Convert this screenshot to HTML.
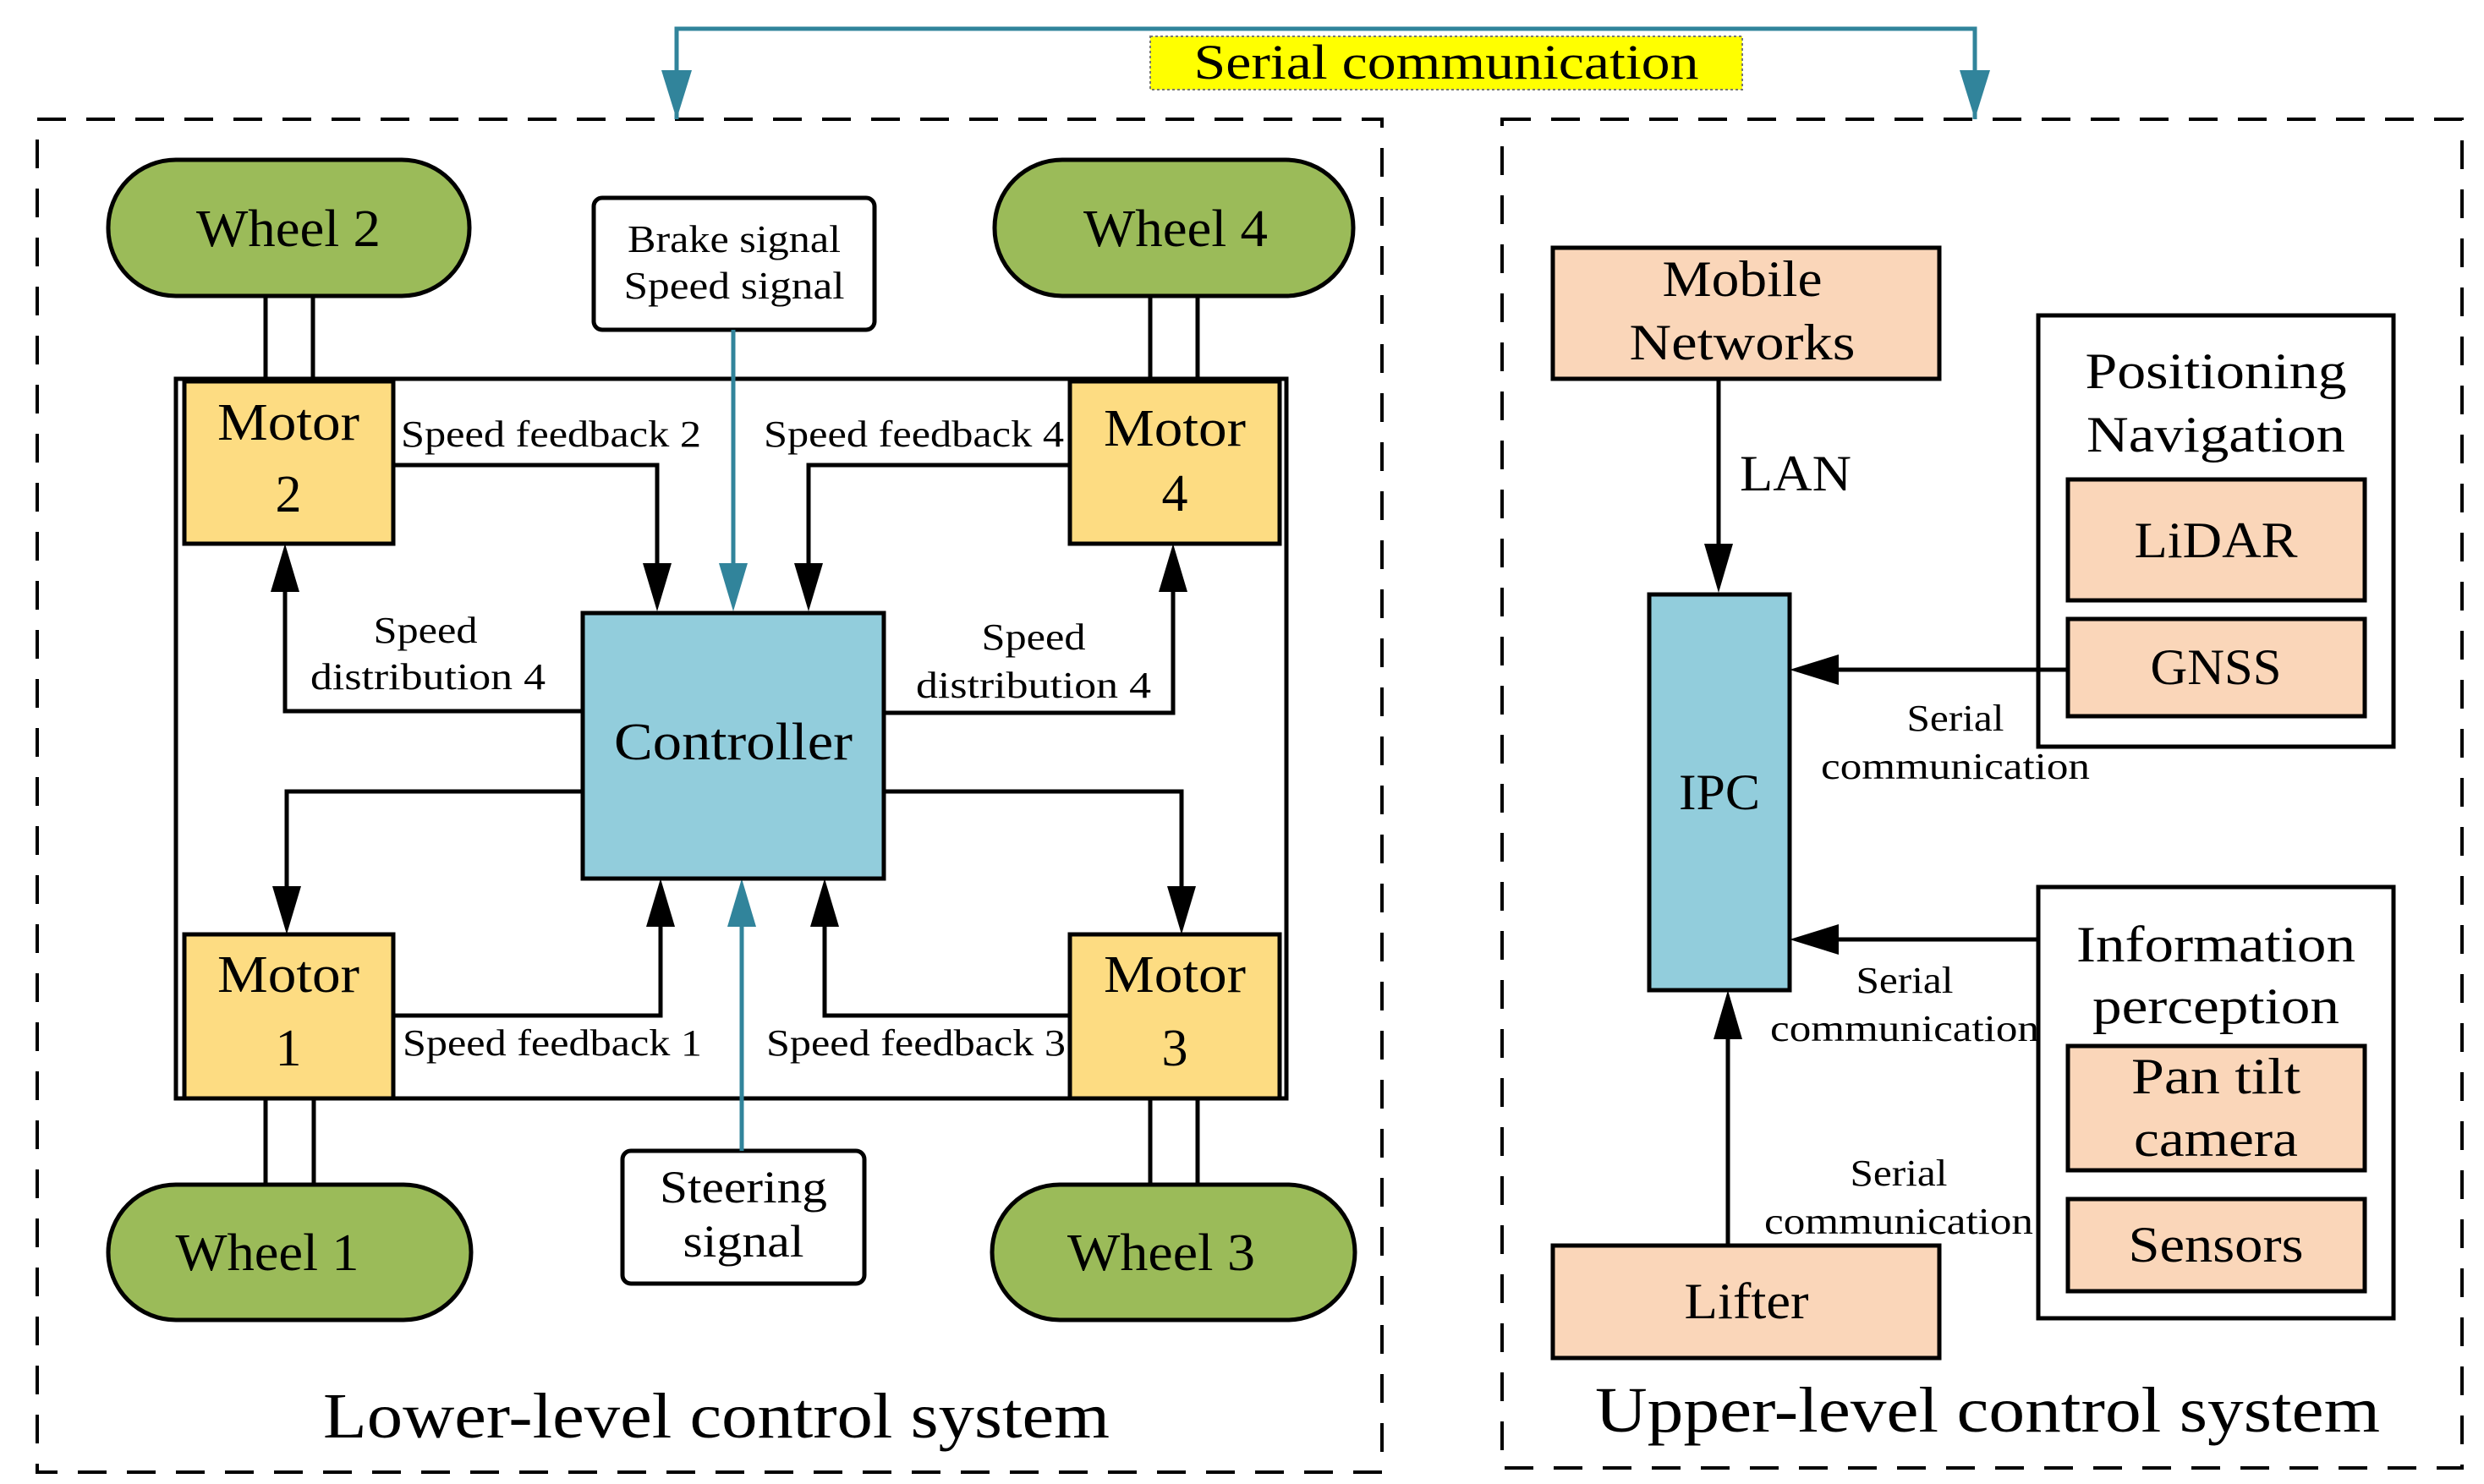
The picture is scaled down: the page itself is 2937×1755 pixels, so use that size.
<!DOCTYPE html>
<html><head><meta charset="utf-8"><style>
html,body{margin:0;padding:0;background:#fff;}
svg{display:block;}
text{font-family:"Liberation Serif",serif;fill:#000;}
</style></head><body>
<svg width="2937" height="1755" viewBox="0 0 2937 1755" xmlns="http://www.w3.org/2000/svg">
<g fill="none" stroke="#000" stroke-width="4" stroke-dasharray="34,24">
<rect x="44" y="141" width="1590" height="1600"/>
<rect x="1776" y="141" width="1135" height="1595"/>
</g>
<polyline points="800,141 800,34 2335,34 2335,141" fill="none" stroke="#31849B" stroke-width="5"/>
<polygon points="782,83 818,83 800,141" fill="#31849B"/>
<polygon points="2317,83 2353,83 2335,141" fill="#31849B"/>
<rect x="1360" y="43" width="700" height="63" fill="#FFFF00" stroke="#777" stroke-width="2" stroke-dasharray="3,3"/>
<text x="1710" y="93" font-size="58" text-anchor="middle" textLength="597" lengthAdjust="spacingAndGlyphs">Serial communication</text>

<rect x="208" y="448" width="1313" height="851" fill="none" stroke="#000" stroke-width="5"/>
<g stroke="#000" stroke-width="5">
<line x1="314" y1="350" x2="314" y2="448"/><line x1="370" y1="350" x2="370" y2="448"/>
<line x1="1360" y1="350" x2="1360" y2="448"/><line x1="1416" y1="350" x2="1416" y2="448"/>
<line x1="314" y1="1299" x2="314" y2="1401"/><line x1="371" y1="1299" x2="371" y2="1401"/>
<line x1="1360" y1="1299" x2="1360" y2="1401"/><line x1="1416" y1="1299" x2="1416" y2="1401"/>
</g>
<g fill="#9BBB59" stroke="#000" stroke-width="5">
<rect x="128" y="189" width="427" height="161" rx="80"/>
<rect x="1176" y="189" width="424" height="161" rx="80"/>
<rect x="128" y="1401" width="429" height="160" rx="80"/>
<rect x="1173" y="1401" width="429" height="160" rx="80"/>
</g>
<g font-size="62">
<text x="341" y="291" text-anchor="middle" textLength="218" lengthAdjust="spacingAndGlyphs">Wheel 2</text>
<text x="1390" y="291" text-anchor="middle" textLength="218" lengthAdjust="spacingAndGlyphs">Wheel 4</text>
<text x="316" y="1502" text-anchor="middle" textLength="217" lengthAdjust="spacingAndGlyphs">Wheel 1</text>
<text x="1373" y="1502" text-anchor="middle" textLength="222" lengthAdjust="spacingAndGlyphs">Wheel 3</text>
</g>
<rect x="702" y="234" width="332" height="156" rx="10" fill="#fff" stroke="#000" stroke-width="5"/>
<text x="868" y="298" font-size="46" text-anchor="middle" textLength="252" lengthAdjust="spacingAndGlyphs">Brake signal</text>
<text x="868" y="353" font-size="46" text-anchor="middle" textLength="261" lengthAdjust="spacingAndGlyphs">Speed signal</text>
<rect x="736" y="1361" width="286" height="157" rx="10" fill="#fff" stroke="#000" stroke-width="5"/>
<text x="879" y="1422" font-size="54" text-anchor="middle" textLength="198" lengthAdjust="spacingAndGlyphs">Steering</text>
<text x="879" y="1486" font-size="54" text-anchor="middle" textLength="143" lengthAdjust="spacingAndGlyphs">signal</text>

<g fill="none" stroke="#000" stroke-width="5">
<polyline points="465,550 777,550 777,700"/>
<polyline points="1263,550 956,550 956,700"/>
<polyline points="687,841 337,841 337,670"/>
<polyline points="1045,843 1387,843 1387,670"/>
<polyline points="687,936 339,936 339,1080"/>
<polyline points="1045,936 1397,936 1397,1080"/>
<polyline points="465,1201 781,1201 781,1062"/>
<polyline points="1265,1201 975,1201 975,1062"/>
</g>
<line x1="867" y1="390" x2="867" y2="700" stroke="#31849B" stroke-width="5"/>
<line x1="877" y1="1361" x2="877" y2="1062" stroke="#31849B" stroke-width="5"/>
<g fill="#000">
<polygon points="760,666 794,666 777,723"/>
<polygon points="939,666 973,666 956,723"/>
<polygon points="320,700 354,700 337,643"/>
<polygon points="1370,700 1404,700 1387,643"/>
<polygon points="322,1048 356,1048 339,1105"/>
<polygon points="1380,1048 1414,1048 1397,1105"/>
<polygon points="764,1096 798,1096 781,1039"/>
<polygon points="958,1096 992,1096 975,1039"/>
</g>
<polygon points="850,666 884,666 867,723" fill="#31849B"/>
<polygon points="860,1096 894,1096 877,1039" fill="#31849B"/>

<g fill="#FDDC82" stroke="#000" stroke-width="5">
<rect x="218" y="451" width="247" height="192"/>
<rect x="1265" y="451" width="248" height="192"/>
<rect x="218" y="1105" width="247" height="194"/>
<rect x="1265" y="1105" width="248" height="194"/>
</g>
<g font-size="62" text-anchor="middle">
<text x="341" y="520" textLength="168" lengthAdjust="spacingAndGlyphs">Motor</text>
<text x="341" y="605">2</text>
<text x="1389" y="527" textLength="168" lengthAdjust="spacingAndGlyphs">Motor</text>
<text x="1389" y="604">4</text>
<text x="341" y="1173" textLength="168" lengthAdjust="spacingAndGlyphs">Motor</text>
<text x="341" y="1260">1</text>
<text x="1389" y="1173" textLength="168" lengthAdjust="spacingAndGlyphs">Motor</text>
<text x="1389" y="1260">3</text>
</g>
<rect x="689" y="725" width="356" height="314" fill="#92CDDC" stroke="#000" stroke-width="5"/>
<text x="867" y="898" font-size="62" text-anchor="middle" textLength="282" lengthAdjust="spacingAndGlyphs">Controller</text>

<g font-size="44">
<text x="474" y="528" textLength="355" lengthAdjust="spacingAndGlyphs">Speed feedback 2</text>
<text x="903" y="528" textLength="355" lengthAdjust="spacingAndGlyphs">Speed feedback 4</text>
<text x="476" y="1248" textLength="354" lengthAdjust="spacingAndGlyphs">Speed feedback 1</text>
<text x="906" y="1248" textLength="354" lengthAdjust="spacingAndGlyphs">Speed feedback 3</text>
<text x="503" y="760" text-anchor="middle" textLength="123" lengthAdjust="spacingAndGlyphs">Speed</text>
<text x="506" y="815" text-anchor="middle" textLength="278" lengthAdjust="spacingAndGlyphs">distribution 4</text>
<text x="1222" y="768" text-anchor="middle" textLength="123" lengthAdjust="spacingAndGlyphs">Speed</text>
<text x="1222" y="825" text-anchor="middle" textLength="278" lengthAdjust="spacingAndGlyphs">distribution 4</text>
</g>
<text x="847" y="1700" font-size="76" text-anchor="middle" textLength="930" lengthAdjust="spacingAndGlyphs">Lower-level control system</text>

<rect x="1836" y="293" width="457" height="155" fill="#FAD6B9" stroke="#000" stroke-width="5"/>
<text x="2060" y="350" font-size="60" text-anchor="middle" textLength="189" lengthAdjust="spacingAndGlyphs">Mobile</text>
<text x="2060" y="425" font-size="60" text-anchor="middle" textLength="267" lengthAdjust="spacingAndGlyphs">Networks</text>
<line x1="2032" y1="448" x2="2032" y2="650" stroke="#000" stroke-width="5"/>
<polygon points="2015,643 2049,643 2032,701" fill="#000"/>
<text x="2057" y="580" font-size="60" textLength="132" lengthAdjust="spacingAndGlyphs">LAN</text>

<rect x="2410" y="373" width="420" height="510" fill="#fff" stroke="#000" stroke-width="5"/>
<text x="2620" y="459" font-size="60" text-anchor="middle" textLength="309" lengthAdjust="spacingAndGlyphs">Positioning</text>
<text x="2620" y="534" font-size="60" text-anchor="middle" textLength="306" lengthAdjust="spacingAndGlyphs">Navigation</text>
<rect x="2445" y="567" width="351" height="143" fill="#FAD6B9" stroke="#000" stroke-width="5"/>
<text x="2620" y="659" font-size="60" text-anchor="middle" textLength="193" lengthAdjust="spacingAndGlyphs">LiDAR</text>
<rect x="2445" y="732" width="351" height="115" fill="#FAD6B9" stroke="#000" stroke-width="5"/>
<text x="2620" y="809" font-size="60" text-anchor="middle" textLength="155" lengthAdjust="spacingAndGlyphs">GNSS</text>

<rect x="1950" y="703" width="166" height="468" fill="#92CDDC" stroke="#000" stroke-width="5"/>
<text x="2033" y="957" font-size="60" text-anchor="middle" textLength="96" lengthAdjust="spacingAndGlyphs">IPC</text>

<g stroke="#000" stroke-width="5">
<line x1="2445" y1="792" x2="2160" y2="792"/>
<line x1="2410" y1="1111" x2="2160" y2="1111"/>
<line x1="2043" y1="1473" x2="2043" y2="1215"/>
</g>
<g fill="#000">
<polygon points="2174,774 2174,810 2116,792"/>
<polygon points="2174,1093 2174,1129 2116,1111"/>
<polygon points="2026,1229 2060,1229 2043,1171"/>
</g>
<g font-size="44" text-anchor="middle">
<text x="2312" y="864" textLength="115" lengthAdjust="spacingAndGlyphs">Serial</text>
<text x="2312" y="921" textLength="318" lengthAdjust="spacingAndGlyphs">communication</text>
<text x="2252" y="1174" textLength="115" lengthAdjust="spacingAndGlyphs">Serial</text>
<text x="2252" y="1231" textLength="318" lengthAdjust="spacingAndGlyphs">communication</text>
<text x="2245" y="1402" textLength="115" lengthAdjust="spacingAndGlyphs">Serial</text>
<text x="2245" y="1459" textLength="318" lengthAdjust="spacingAndGlyphs">communication</text>
</g>

<rect x="2410" y="1049" width="420" height="510" fill="#fff" stroke="#000" stroke-width="5"/>
<text x="2620" y="1137" font-size="60" text-anchor="middle" textLength="330" lengthAdjust="spacingAndGlyphs">Information</text>
<text x="2620" y="1210" font-size="60" text-anchor="middle" textLength="292" lengthAdjust="spacingAndGlyphs">perception</text>
<rect x="2445" y="1237" width="351" height="147" fill="#FAD6B9" stroke="#000" stroke-width="5"/>
<text x="2620" y="1293" font-size="60" text-anchor="middle" textLength="200" lengthAdjust="spacingAndGlyphs">Pan tilt</text>
<text x="2620" y="1367" font-size="60" text-anchor="middle" textLength="194" lengthAdjust="spacingAndGlyphs">camera</text>
<rect x="2445" y="1418" width="351" height="109" fill="#FAD6B9" stroke="#000" stroke-width="5"/>
<text x="2620" y="1492" font-size="60" text-anchor="middle" textLength="207" lengthAdjust="spacingAndGlyphs">Sensors</text>

<rect x="1836" y="1473" width="457" height="133" fill="#FAD6B9" stroke="#000" stroke-width="5"/>
<text x="2065" y="1559" font-size="60" text-anchor="middle" textLength="147" lengthAdjust="spacingAndGlyphs">Lifter</text>

<text x="2350" y="1693" font-size="76" text-anchor="middle" textLength="928" lengthAdjust="spacingAndGlyphs">Upper-level control system</text>
</svg>
</body></html>
